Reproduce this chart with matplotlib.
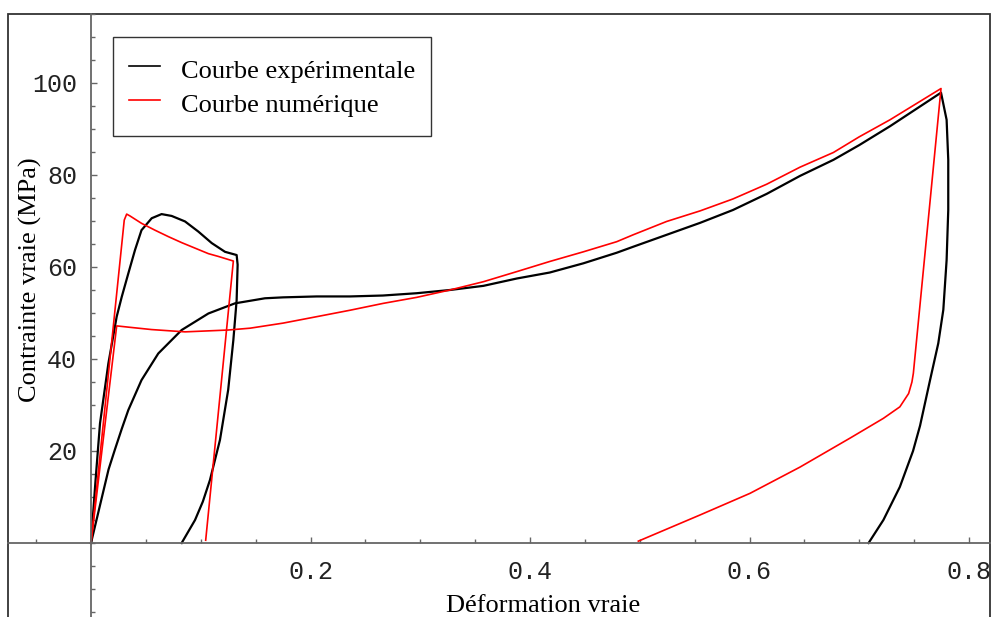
import matplotlib
matplotlib.use("Agg")
import matplotlib.pyplot as plt
from matplotlib.patches import Rectangle
from matplotlib.ticker import MultipleLocator, FixedLocator

# -----------------------------
# DONNEES
# -----------------------------
# courbe experimentale, 1er essai (charge + decharge)
exp1_eps = [0, 0.0041, 0.0082, 0.0158, 0.0234, 0.028, 0.034, 0.0401, 0.046, 0.0553,
            0.0643, 0.0735, 0.0857, 0.0978, 0.110, 0.1221, 0.1327, 0.1336, 0.1327, 0.1297,
            0.125, 0.1175, 0.1084, 0.1019, 0.0948, 0.0826]
exp1_sig = [0, 13.5, 26, 39, 49.2, 53.5, 58.6, 63.7, 68.0, 70.6,
            71.5, 71.1, 69.9, 67.7, 65.2, 63.3, 62.6, 60.5, 52.8, 44.1,
            33.3, 22.4, 13.7, 9.0, 5.0, 0]

# courbe experimentale, 2e essai
exp2_eps = [0, 0.0055, 0.011, 0.016, 0.0219, 0.028, 0.034, 0.046, 0.0613, 0.0826,
            0.107, 0.1312, 0.1585, 0.175, 0.2056, 0.236, 0.266, 0.2968, 0.327, 0.3575,
            0.388, 0.418, 0.4486, 0.479, 0.494, 0.5245, 0.555, 0.585, 0.6157, 0.646,
            0.6765, 0.7, 0.728, 0.7745, 0.7796, 0.7811, 0.7811, 0.7796, 0.7766, 0.772,
            0.7645, 0.7554, 0.749, 0.737, 0.722, 0.7085]
exp2_sig = [0, 5.5, 11, 16, 20.4, 24.8, 28.9, 35.4, 41.2, 46.3,
            49.9, 52.1, 53.2, 53.4, 53.6, 53.6, 53.8, 54.3, 55.0, 55.9,
            57.5, 58.8, 60.8, 63.1, 64.4, 67.0, 69.6, 72.4, 75.9, 79.8,
            83.3, 86.5, 90.6, 97.9, 92.0, 83.3, 72.4, 61.5, 50.7, 43.4,
            35.4, 25.5, 20.0, 12.2, 5.0, 0]

# courbe numerique, 1er essai
num1_eps = [0, 0.0303, 0.0325, 0.0355, 0.046, 0.0583, 0.0705, 0.0826, 0.0948, 0.107,
            0.116, 0.1297, 0.1045]
num1_sig = [0, 70.2, 71.5, 71.1, 69.5, 68.0, 66.6, 65.3, 64.1, 62.9,
            62.3, 61.3, 0.6]

# courbe numerique, 2e essai
num2_eps = [0, 0.0234, 0.035, 0.0552, 0.0857, 0.125, 0.145, 0.175, 0.2056, 0.236,
            0.2664, 0.2968, 0.327, 0.3575, 0.388, 0.418, 0.4486, 0.479, 0.494, 0.5245,
            0.555, 0.585, 0.6157, 0.646, 0.6765, 0.7, 0.728, 0.7745, 0.7493, 0.748,
            0.745, 0.737, 0.722, 0.6916, 0.646, 0.6005, 0.555, 0.4987]
num2_sig = [0, 47.2, 46.9, 46.4, 45.9, 46.3, 46.7, 47.8, 49.2, 50.6,
            52.1, 53.4, 55.0, 56.8, 59.0, 61.2, 63.3, 65.5, 67.0, 69.9,
            72.2, 74.8, 78.0, 81.7, 84.9, 88.3, 92.0, 98.8, 36.9, 35.0,
            32.5, 29.6, 27.1, 22.8, 16.5, 10.8, 6.1, 0.4]

x_ticks = [0.2, 0.4, 0.6, 0.8]
y_ticks = [20, 40, 60, 80, 100]

# -----------------------------
# FIGURE
# -----------------------------
W, H = 991, 617
fig = plt.figure(figsize=(W / 100, H / 100), dpi=100)
left_px, right_px, top_px, bot_px = 8, 990, 14, 622
ax = fig.add_axes([left_px / W, (H - bot_px) / H,
                   (right_px - left_px) / W, (bot_px - top_px) / H])

# echelle : origine au pixel (91, 543)
x0_px, xscale = 91, 1097.5
y0_px, yscale = 543, 4.6
ax.set_xlim((left_px - x0_px) / xscale, (right_px - x0_px) / xscale)
ax.set_ylim((y0_px - bot_px) / yscale, (y0_px - top_px) / yscale)

ax.plot(exp1_eps, exp1_sig, color="black", lw=1.6, label="Courbe expérimentale")
ax.plot(exp2_eps, exp2_sig, color="black", lw=1.6)
ax.plot(num1_eps, num1_sig, color="#ff0000", lw=1.2, label="Courbe numérique")
ax.plot(num2_eps, num2_sig, color="#ff0000", lw=1.2)

# axes croises a l'origine (style Mathematica)
axis_col = "#666666"
for side in ["left", "bottom"]:
    ax.spines[side].set_position(("data", 0))
    ax.spines[side].set_color(axis_col)
    ax.spines[side].set_linewidth(1.3)
for side in ["top", "right"]:
    ax.spines[side].set_visible(False)

# cadre autour de la figure
ax.add_patch(Rectangle((0, 0), 1, 1, transform=ax.transAxes, fill=False,
                       edgecolor="#333333", lw=1.3, clip_on=False))

ax.xaxis.set_major_locator(FixedLocator(x_ticks))
ax.xaxis.set_minor_locator(MultipleLocator(0.05))
ax.yaxis.set_major_locator(FixedLocator(y_ticks))
ax.yaxis.set_minor_locator(MultipleLocator(5))
ax.set_xticklabels(["%.1f" % v for v in x_ticks])
ax.set_yticklabels(["%d" % v for v in y_ticks])
ax.tick_params(which="both", direction="in", color=axis_col, width=1.0)
ax.tick_params(which="major", length=4.5)
ax.tick_params(which="minor", length=3.2)
ax.tick_params(axis="x", which="major", pad=12)
ax.tick_params(axis="y", which="major", pad=10)
for lab in ax.get_xticklabels() + ax.get_yticklabels():
    lab.set_fontfamily("Liberation Mono")
    lab.set_fontsize(18)
    lab.set_color("#222222")

serif = "Liberation Serif"
ax.set_xlabel("Déformation vraie", fontfamily=serif, fontsize=19)
ax.set_ylabel("Contrainte vraie (MPa)", fontfamily=serif, fontsize=19)
ax.xaxis.set_label_coords((543 - left_px) / (right_px - left_px),
                          (bot_px - 595) / (bot_px - top_px))
ax.yaxis.set_label_coords((30 - left_px) / (right_px - left_px),
                          (bot_px - 280) / (bot_px - top_px))
ax.xaxis.label.set_va("top")
ax.yaxis.label.set_va("center")

leg = ax.legend(loc="upper left",
                bbox_to_anchor=((113 - left_px) / (right_px - left_px),
                                (bot_px - 37) / (bot_px - top_px)),
                borderaxespad=0, fancybox=False, framealpha=1,
                edgecolor="#333333", prop={"family": serif, "size": 19},
                handlelength=1.17, handleheight=1.6, handletextpad=0.8,
                labelspacing=0.0, borderpad=0.6)
leg.get_frame().set_linewidth(1.0)
for line in leg.get_lines():
    line.set_linewidth(1.2)

fig.savefig("out.png", dpi=100)
